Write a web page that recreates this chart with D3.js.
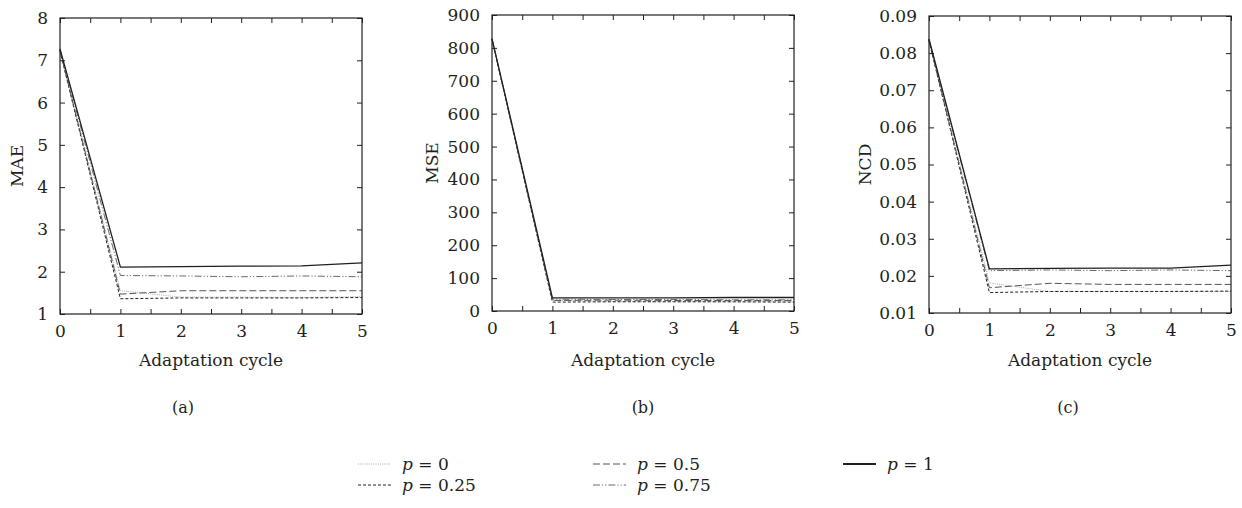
<!DOCTYPE html>
<html>
<head>
<meta charset="utf-8">
<script src="https://cdn.jsdelivr.net/npm/d3@7"></script>
<style>
  html, body { margin: 0; padding: 0; background: #fff; }
</style>
</head>
<body>
<svg id="chart" width="1242" height="508"></svg>
<script>
// Adaptation cycles on the x axis
const cycles = [0, 1, 2, 3, 4, 5];
const seriesNames = ["p = 0", "p = 0.25", "p = 0.5", "p = 0.75", "p = 1"];

// MAE per series
const maeP0   = [7.22, 1.55, 1.40, 1.40, 1.39, 1.41];
const maeP025 = [7.22, 1.36, 1.38, 1.38, 1.38, 1.39];
const maeP05  = [7.23, 1.47, 1.55, 1.55, 1.55, 1.55];
const maeP075 = [7.25, 1.91, 1.90, 1.88, 1.90, 1.88];
const maeP1   = [7.27, 2.11, 2.12, 2.13, 2.14, 2.21];

// MSE per series
const mseP0   = [826, 33, 29, 29, 28, 28];
const mseP025 = [826, 27, 28, 28, 28, 27];
const mseP05  = [826, 32, 33, 32, 32, 32];
const mseP075 = [827, 36, 35, 35, 34, 34];
const mseP1   = [828, 40, 40, 40, 41, 41];

// NCD per series
const ncdP0   = [0.0834, 0.0181, 0.0158, 0.0158, 0.0158, 0.0158];
const ncdP025 = [0.0834, 0.0155, 0.0158, 0.0158, 0.0158, 0.0159];
const ncdP05  = [0.0834, 0.0168, 0.0180, 0.0177, 0.0177, 0.0177];
const ncdP075 = [0.0836, 0.0214, 0.0216, 0.0214, 0.0216, 0.0214];
const ncdP1   = [0.0838, 0.0219, 0.0220, 0.0221, 0.0221, 0.0229];

// Axis ticks
const xMajorTicks = [0, 1, 2, 3, 4, 5];
const xMinorTicks = [0.5, 1.5, 2.5, 3.5, 4.5];
const maeTicks = [1, 2, 3, 4, 5, 6, 7, 8];
const mseTicks = [0, 100, 200, 300, 400, 500, 600, 700, 800, 900];
const ncdTicks = [0.01, 0.02, 0.03, 0.04, 0.05, 0.06, 0.07, 0.08, 0.09];

const axisTitleX = "Adaptation cycle";
const panelCaptions = ["(a)", "(b)", "(c)"];

// Line styles for the five series (same order as seriesNames)
const lineStyles = [
  { stroke: "#a8a8a8", width: 1.0, dash: "1,1.2" },
  { stroke: "#231f20", width: 1.0, dash: "3,2" },
  { stroke: "#555555", width: 1.0, dash: "7,3" },
  { stroke: "#6a6a6a", width: 1.0, dash: "7,2,1.2,2,1.2,2" },
  { stroke: "#231f20", width: 1.3, dash: null }
];

const FONT = "'DejaVu Serif', 'Liberation Serif', 'Times New Roman', serif";
const fontSize = 17;
const tickLen = 5;

const panels = [
  { title: "MAE", domain: [1, 8], ticks: maeTicks, fmt: d3.format("d"),
    series: [maeP0, maeP025, maeP05, maeP075, maeP1],
    left: 60, right: 362, top: 18, bottom: 314, titleX: 17, captionX: 183 },
  { title: "MSE", domain: [0, 900], ticks: mseTicks, fmt: d3.format("d"),
    series: [mseP0, mseP025, mseP05, mseP075, mseP1],
    left: 492, right: 794, top: 15, bottom: 311, titleX: 432, captionX: 643 },
  { title: "NCD", domain: [0.01, 0.09], ticks: ncdTicks, fmt: d3.format(".2f"),
    series: [ncdP0, ncdP025, ncdP05, ncdP075, ncdP1],
    left: 929, right: 1231, top: 16, bottom: 313, titleX: 865, captionX: 1068 }
];

const svg = d3.select("#chart");

function styleText(sel, size) {
  sel.style("font-family", FONT)
     .style("font-size", size + "px")
     .style("fill", "#231f20");
}

panels.forEach((p, pi) => {
  const x = d3.scaleLinear().domain([0, 5]).range([p.left, p.right]);
  const y = d3.scaleLinear().domain(p.domain).range([p.bottom, p.top]);
  const g = svg.append("g");

  // Data lines (drawn first so the frame sits on top)
  const line = d3.line().x((d, i) => x(cycles[i])).y(d => y(d));
  p.series.forEach((vals, si) => {
    const st = lineStyles[si];
    g.append("path")
      .datum(vals)
      .attr("d", line)
      .attr("fill", "none")
      .attr("stroke", st.stroke)
      .attr("stroke-width", st.width)
      .attr("stroke-dasharray", st.dash)
      .attr("stroke-linejoin", "miter");
  });

  // Bottom axis with labels, ticks pointing inward
  const xAll = xMajorTicks.concat(xMinorTicks);
  const bottom = g.append("g")
    .attr("transform", `translate(0,${p.bottom})`)
    .call(d3.axisBottom(x).tickValues(xAll).tickSizeInner(-tickLen).tickSizeOuter(0)
      .tickPadding(11).tickFormat(d => Number.isInteger(d) ? d3.format("d")(d) : ""));
  // Top axis, ticks only
  const top = g.append("g")
    .attr("transform", `translate(0,${p.top})`)
    .call(d3.axisTop(x).tickValues(xAll).tickSizeInner(-tickLen).tickSizeOuter(0).tickFormat(""));
  // Left axis with labels
  const left = g.append("g")
    .attr("transform", `translate(${p.left},0)`)
    .call(d3.axisLeft(y).tickValues(p.ticks).tickSizeInner(-tickLen).tickSizeOuter(0)
      .tickPadding(12).tickFormat(p.fmt));
  // Right axis, ticks only
  const right = g.append("g")
    .attr("transform", `translate(${p.right},0)`)
    .call(d3.axisRight(y).tickValues(p.ticks).tickSizeInner(-tickLen).tickSizeOuter(0).tickFormat(""));

  [bottom, top, left, right].forEach(a => {
    a.select(".domain").remove();
    a.selectAll(".tick line").attr("stroke", "#231f20").attr("stroke-width", 1);
    styleText(a.selectAll("text"), fontSize);
  });

  // Frame
  g.append("rect")
    .attr("x", p.left).attr("y", p.top)
    .attr("width", p.right - p.left).attr("height", p.bottom - p.top)
    .attr("fill", "none").attr("stroke", "#231f20").attr("stroke-width", 1.2);

  // Axis titles
  styleText(g.append("text")
    .attr("x", (p.left + p.right) / 2).attr("y", 366)
    .attr("text-anchor", "middle")
    .text(axisTitleX), fontSize);
  styleText(g.append("text")
    .attr("transform", `translate(${p.titleX},${(p.top + p.bottom) / 2}) rotate(-90)`)
    .attr("text-anchor", "middle").attr("dominant-baseline", "central")
    .text(p.title), fontSize);

  // Panel caption
  styleText(g.append("text")
    .attr("x", p.captionX).attr("y", 413)
    .attr("text-anchor", "middle")
    .text(panelCaptions[pi]), 16);
});

// Legend
const legendPos = [
  { x: 358, y: 464 }, { x: 358, y: 485 },
  { x: 593, y: 464 }, { x: 593, y: 485 },
  { x: 843, y: 464 }
];
const legend = svg.append("g");
seriesNames.forEach((name, i) => {
  const st = lineStyles[i];
  const pos = legendPos[i];
  legend.append("line")
    .attr("x1", pos.x).attr("x2", pos.x + 33)
    .attr("y1", pos.y).attr("y2", pos.y)
    .attr("stroke", st.stroke)
    .attr("stroke-width", i === 4 ? 2 : 1)
    .attr("stroke-dasharray", st.dash);
  const parts = name.split(" = ");
  const t = legend.append("text")
    .attr("x", pos.x + 44).attr("y", pos.y)
    .attr("dominant-baseline", "central");
  styleText(t, fontSize);
  t.append("tspan").style("font-style", "italic").text(parts[0]);
  t.append("tspan").text(" = " + parts[1]);
});
</script>
</body>
</html>
